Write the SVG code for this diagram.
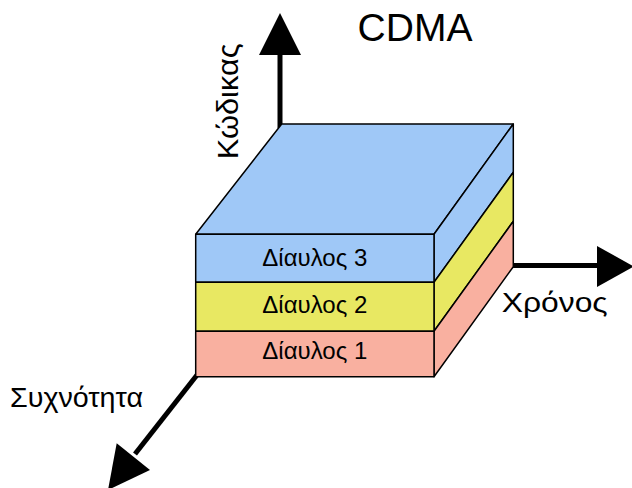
<svg xmlns="http://www.w3.org/2000/svg" width="632" height="488" viewBox="0 0 632 488">
<style>
.axis{stroke:#000;stroke-width:5;fill:none}
.head{fill:#000;stroke:none}
.edge{stroke:#000;stroke-width:1.5;stroke-linejoin:round}
.lbl{font-family:"Liberation Sans",Arial,sans-serif;fill:#000}
.blue{fill:#9fc8f7}
.yellow{fill:#e8e862}
.pink{fill:#f9b0a0}
</style>
<rect width="632" height="488" fill="#fff"/>
<g id="connectors">
<line class="axis" x1="280" y1="128" x2="280" y2="52"/>
<polygon class="head" points="259,55 301,55 280,13"/>
<line class="axis" x1="511" y1="265.5" x2="600" y2="265.5"/>
<polygon class="head" points="597,246 597,287 634,266.5"/>
<line class="axis" x1="197" y1="375" x2="135" y2="454"/>
<polygon class="head" points="116.7,443.3 150,470 108,490"/>
</g>
<g id="box">
<polygon class="edge blue" points="195.7,234.3 281.7,124 513.3,124 434,234.3"/>
<polygon class="edge blue" points="434,234.3 513.3,124 513.3,172.3 434,282.3"/>
<polygon class="edge yellow" points="434,282.3 513.3,172.3 513.3,221.3 434,331.3"/>
<polygon class="edge pink" points="434,331.3 513.3,221.3 513.3,266.7 434,376.7"/>
</g>
<g id="channel3">
<rect class="edge blue" x="195.7" y="234.3" width="238.3" height="48"/>
<text class="lbl" x="314.8" y="265.7" font-size="24" text-anchor="middle">Δίαυλος 3</text>
</g>
<g id="channel2">
<rect class="edge yellow" x="195.7" y="282.3" width="238.3" height="49"/>
<text class="lbl" x="314.8" y="313.3" font-size="24" text-anchor="middle">Δίαυλος 2</text>
</g>
<g id="channel1">
<rect class="edge pink" x="195.7" y="331.3" width="238.3" height="45.4"/>
<text class="lbl" x="314.8" y="359" font-size="24" text-anchor="middle">Δίαυλος 1</text>
</g>
<g id="labels">
<text class="lbl" x="415" y="41" font-size="39" text-anchor="middle">CDMA</text>
<text class="lbl" font-size="29" textLength="116" lengthAdjust="spacingAndGlyphs" transform="translate(238,159.3) rotate(-90)">Κώδικας</text>
<text class="lbl" x="10" y="406.7" font-size="27" textLength="133" lengthAdjust="spacingAndGlyphs">Συχνότητα</text>
<text class="lbl" x="501.7" y="311.7" font-size="28" textLength="106" lengthAdjust="spacingAndGlyphs">Χρόνος</text>
</g>
</svg>
